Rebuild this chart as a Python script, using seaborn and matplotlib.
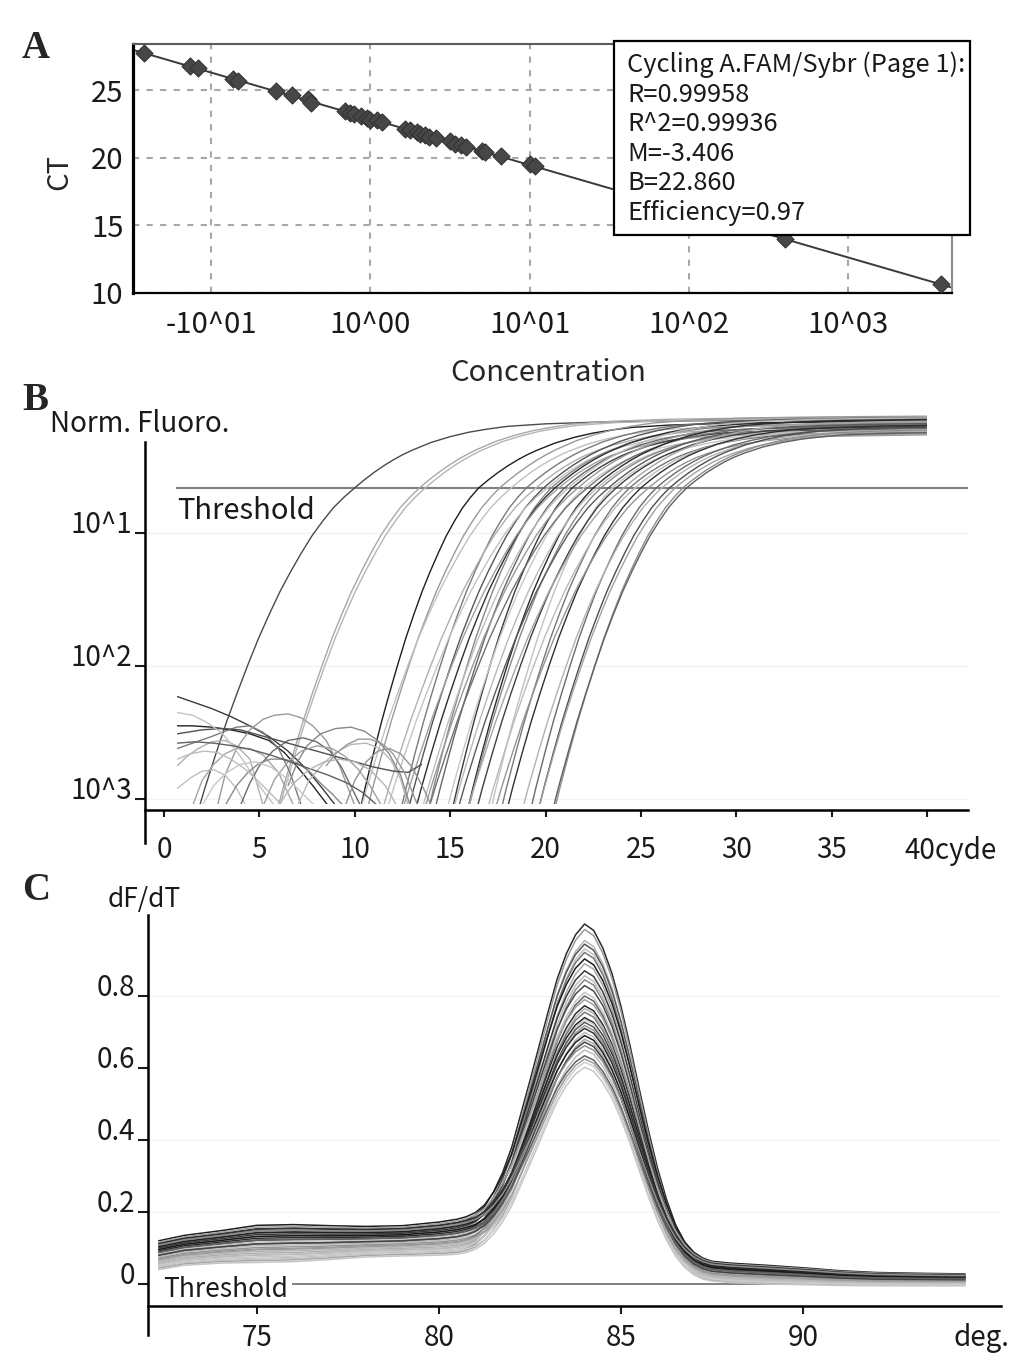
import numpy as np
import pandas as pd
import seaborn as sns
import matplotlib
matplotlib.use("Agg")
import matplotlib.pyplot as plt
from matplotlib.patches import Rectangle

W, H = 1033, 1364

# ---- panel A: standard curve ----
conc_log = [-1.42, -1.13, -1.08, -0.86, -0.83, -0.59, -0.49, -0.39, -0.37,
            -0.16, -0.13, -0.10, -0.06, -0.02, 0.00, 0.04, 0.07, 0.22, 0.25,
            0.29, 0.31, 0.34, 0.37, 0.41, 0.50, 0.53, 0.57, 0.60, 0.70, 0.72,
            0.82, 1.00, 1.03, 2.60, 3.58]
ct_values = [27.70, 26.75, 26.60, 25.85, 25.70, 24.90, 24.60, 24.30, 24.05,
             23.45, 23.30, 23.20, 23.10, 22.95, 22.80, 22.75, 22.60, 22.10,
             22.05, 21.90, 21.75, 21.70, 21.55, 21.45, 21.20, 21.00, 20.95,
             20.80, 20.50, 20.40, 20.10, 19.50, 19.35, 14.00, 10.65]
conc_ticks = [-1, 0, 1, 2, 3]
conc_labels = ["-10^01", "10^00", "10^01", "10^02", "10^03"]
ct_ticks = [10, 15, 20, 25]
fit_lines = ["Cycling A.FAM/Sybr (Page 1):", "R=0.99958", "R^2=0.99936",
             "M=-3.406", "B=22.860", "Efficiency=0.97"]

# ---- panel B: amplification (log10 of normalised fluorescence) ----
# shared curve shape, read relative to the threshold crossing cycle
amp_dc = [-8.0, -7.5, -7.0, -6.5, -6.0, -5.5, -5.0, -4.5, -4.0, -3.5, -3.0,
          -2.5, -2.0, -1.5, -1.0, -0.5, 0.0, 0.5, 1.0, 1.5, 2.0, 2.5, 3.0,
          4.0, 5.0, 6.0, 7.0, 8.0, 10.0, 13.0, 17.0, 22.0, 31.0]
amp_log = [-3.46, -3.18, -2.91, -2.66, -2.42, -2.20, -1.99, -1.79, -1.61,
           -1.44, -1.29, -1.15, -1.02, -0.91, -0.81, -0.73, -0.66, -0.60,
           -0.545, -0.495, -0.45, -0.41, -0.375, -0.315, -0.27, -0.235,
           -0.21, -0.19, -0.17, -0.155, -0.147, -0.142, -0.14]
amp_share = [0, 0, 0, 0, 0, 0, 0, 0, 0, 0, 0, 0, 0, 0, 0, 0, 0, 0.02, 0.05,
             0.1, 0.15, 0.21, 0.28, 0.42, 0.55, 0.66, 0.75, 0.82, 0.92, 1.0,
             1.0, 1.0, 1.0]
amp_ct = [10.0, 13.4, 13.7, 16.5, 17.6, 18.2, 19.0, 19.5, 19.9, 20.1, 20.3,
          20.5, 20.7, 21.0, 21.2, 21.4, 21.7, 22.0, 22.2, 22.5, 22.7, 22.9,
          23.3, 23.5, 23.7, 24.1, 24.4, 24.7, 25.0, 25.4, 25.8, 26.1, 26.5,
          26.8, 27.2, 27.4]
# how drawn-out the rise is below the threshold, per curve
amp_stretch = [1.12, 1.02, 1.05, 0.85, 0.95, 1.08, 0.9, 1.1, 0.97, 1.15,
               0.88, 1.0, 1.12, 0.93, 1.05, 0.86, 1.1, 0.98, 1.14, 0.9,
               1.03, 0.95, 1.08, 0.87, 1.0, 1.12, 0.92, 1.06, 0.96, 1.1,
               0.9, 1.0, 0.94, 0.98, 0.92, 0.96]
amp_plateau = [-0.15, -0.13, -0.14, -0.16, -0.12, -0.18, -0.14, -0.2, -0.13,
               -0.22, -0.17, -0.15, -0.24, -0.19, -0.13, -0.21, -0.16, -0.25,
               -0.18, -0.14, -0.22, -0.2, -0.17, -0.24, -0.19, -0.15, -0.23,
               -0.21, -0.18, -0.25, -0.2, -0.22, -0.19, -0.24, -0.21, -0.23]
amp_gray = ["#4a4a4a", "#a8a8a8", "#b5b5b5", "#1e1e1e", "#9a9a9a", "#c0c0c0",
            "#7a7a7a", "#b0b0b0", "#555555", "#c4c4c4", "#888888", "#2e2e2e",
            "#a0a0a0", "#666666", "#bdbdbd", "#3a3a3a", "#999999", "#c8c8c8",
            "#707070", "#2a2a2a", "#b8b8b8", "#8a8a8a", "#5a5a5a", "#c2c2c2",
            "#404040", "#a5a5a5", "#787878", "#bbbbbb", "#303030", "#959595",
            "#6a6a6a", "#b2b2b2", "#4e4e4e", "#a2a2a2", "#8e8e8e", "#606060"]
noise_cyc = [
    [0.7, 1.5, 2.5, 3.5, 4.5, 5.5, 6.5, 7.5, 8.3, 9.0],
    [0.7, 1.5, 2.5, 3.5, 4.5, 5.5, 6.3, 7.0, 7.8, 8.6],
    [0.7, 1.5, 2.5, 3.2, 3.8, 4.5, 5.2, 6.0, 6.6, 7.2],
    [2.8, 3.2, 3.8, 4.5, 5.2, 5.8, 6.5, 7.2, 7.8, 8.5, 9.2, 10.0],
    [6.5, 7.0, 7.5, 8.2, 9.0, 9.8, 10.5, 11.2, 11.8, 12.4, 12.9],
    [0.7, 1.2, 1.8, 2.5, 3.2, 3.8, 4.5, 5.2],
    [0.7, 1.4, 2.0, 2.6, 3.2, 3.8, 4.3],
    [1.5, 2.0, 2.6, 3.2, 3.8, 4.5, 5.2, 6.0, 6.8],
    [4.0, 4.5, 5.0, 5.7, 6.5, 7.3, 8.0, 8.7, 9.3, 10.3],
    [7.0, 7.6, 8.3, 9.0, 9.8, 10.6, 11.3, 11.9, 12.4, 12.8],
    [0.7, 2.0, 3.0, 4.0, 5.0, 6.0, 7.0, 8.0, 9.0, 10.0, 11.0, 12.0, 12.8,
     13.5],
    [8.5, 9.0, 9.6, 10.2, 10.8, 11.5, 12.0, 12.6, 13.3],
    [0.7, 1.5, 2.2, 3.0, 3.6, 4.2, 4.8, 5.3, 5.8],
    [3.2, 3.8, 4.4, 5.0, 5.6, 6.3, 7.0, 7.6, 8.2, 8.8, 9.4],
    [5.2, 5.8, 6.5, 7.2, 8.0, 8.8, 9.5, 10.2, 10.8, 11.4],
    [0.7, 1.4, 2.1, 2.8, 3.5, 4.2, 4.9, 5.6, 6.2],
    [9.5, 10.0, 10.6, 11.2, 11.8, 12.4, 13.0, 13.6, 14.0],
    [2.0, 2.6, 3.3, 4.0, 4.8, 5.6, 6.4, 7.2, 7.9],
    [0.7, 1.6, 2.6, 3.6, 4.6, 5.6, 6.6, 7.6, 8.6, 9.6, 10.4, 11.2],
    [6.0, 6.8, 7.6, 8.4, 9.2, 10.0, 10.8, 11.6, 12.2],
]
noise_log = [
    [-2.23, -2.27, -2.32, -2.38, -2.45, -2.53, -2.64, -2.78, -2.92, -3.05],
    [-2.45, -2.45, -2.46, -2.48, -2.51, -2.56, -2.65, -2.76, -2.90, -3.05],
    [-2.62, -2.58, -2.53, -2.49, -2.46, -2.45, -2.50, -2.62, -2.80, -3.05],
    [-3.05, -2.82, -2.62, -2.48, -2.40, -2.37, -2.36, -2.39, -2.45, -2.56,
     -2.75, -3.05],
    [-2.90, -2.72, -2.60, -2.51, -2.47, -2.46, -2.49, -2.56, -2.66, -2.82,
     -3.05],
    [-2.75, -2.68, -2.62, -2.57, -2.56, -2.60, -2.70, -3.05],
    [-2.92, -2.84, -2.79, -2.78, -2.82, -2.92, -3.05],
    [-3.05, -2.86, -2.74, -2.66, -2.62, -2.62, -2.67, -2.80, -3.05],
    [-3.05, -2.88, -2.75, -2.64, -2.56, -2.54, -2.57, -2.64, -2.76, -3.05],
    [-3.05, -2.86, -2.74, -2.65, -2.59, -2.58, -2.62, -2.71, -2.85, -3.05],
    [-2.51, -2.48, -2.47, -2.48, -2.52, -2.56, -2.60, -2.64, -2.68, -2.72,
     -2.76, -2.79, -2.80, -2.74],
    [-2.75, -2.66, -2.59, -2.55, -2.55, -2.59, -2.66, -2.80, -3.05],
    [-2.35, -2.37, -2.42, -2.50, -2.60, -2.72, -2.86, -2.96, -3.05],
    [-3.05, -2.90, -2.80, -2.73, -2.70, -2.70, -2.73, -2.79, -2.88, -2.96,
     -3.05],
    [-3.05, -2.85, -2.72, -2.64, -2.60, -2.62, -2.68, -2.78, -2.90, -3.05],
    [-2.70, -2.66, -2.64, -2.65, -2.70, -2.77, -2.86, -2.96, -3.05],
    [-3.05, -2.86, -2.72, -2.64, -2.62, -2.66, -2.76, -2.92, -3.05],
    [-3.05, -2.90, -2.80, -2.74, -2.72, -2.76, -2.84, -2.95, -3.05],
    [-2.58, -2.57, -2.58, -2.60, -2.63, -2.67, -2.72, -2.77, -2.82, -2.88,
     -2.95, -3.05],
    [-3.05, -2.88, -2.78, -2.72, -2.70, -2.72, -2.78, -2.90, -3.05],
]
noise_gray = ["#3a3a3a", "#222222", "#7a7a7a", "#9a9a9a", "#888888",
              "#b0b0b0", "#c0c0c0", "#a5a5a5", "#6a6a6a", "#b8b8b8",
              "#505050", "#999999", "#c4c4c4", "#8a8a8a", "#a0a0a0",
              "#bcbcbc", "#959595", "#c8c8c8", "#606060", "#b4b4b4"]
cycle_ticks = [0, 5, 10, 15, 20, 25, 30, 35, 40]
fluoro_ticks = [-1, -2, -3]
fluoro_labels = ["10^1", "10^2", "10^3"]
threshold_b = -0.66

# ---- panel C: melt curves ----
melt_temp = [72.3, 73.0, 74.0, 75.0, 76.0, 77.0, 78.0, 79.0, 80.0, 80.5,
             80.75, 81.0, 81.25, 81.5, 81.75, 82.0, 82.25, 82.5, 82.75, 83.0,
             83.25, 83.5, 83.75, 84.0, 84.25, 84.5, 84.75, 85.0, 85.25, 85.5,
             85.75, 86.0, 86.25, 86.5, 86.75, 87.0, 87.25, 87.5, 88.0, 89.0,
             90.0, 91.0, 92.0, 93.0, 94.45]
melt_shape = [0, 0, 0, 0, 0, 0, 0, 0, 0, 0, 0.005, 0.02, 0.05, 0.10, 0.165,
              0.25, 0.36, 0.47, 0.585, 0.70, 0.81, 0.895, 0.96, 1.0, 0.985,
              0.935, 0.86, 0.76, 0.64, 0.51, 0.385, 0.27, 0.175, 0.10, 0.05,
              0.02, 0.005, 0, 0, 0, 0, 0, 0, 0, 0]
melt_base_low = [0.04, 0.052, 0.058, 0.06, 0.062, 0.068, 0.075, 0.078, 0.08,
                 0.083, 0.085, 0.086, 0.086, 0.085, 0.084, 0.082, 0.08, 0.078,
                 0.075, 0.072, 0.069, 0.066, 0.063, 0.06, 0.057, 0.053, 0.05,
                 0.046, 0.043, 0.039, 0.035, 0.031, 0.027, 0.023, 0.019,
                 0.015, 0.011, 0.008, 0.004, 0.0, -0.002, -0.004, -0.005,
                 -0.005, -0.005]
melt_base_high = [0.12, 0.135, 0.148, 0.163, 0.165, 0.162, 0.16, 0.162, 0.172,
                  0.18, 0.183, 0.183, 0.181, 0.178, 0.175, 0.171, 0.167,
                  0.163, 0.158, 0.153, 0.148, 0.143, 0.138, 0.133, 0.128,
                  0.123, 0.118, 0.113, 0.108, 0.103, 0.098, 0.093, 0.088,
                  0.083, 0.078, 0.073, 0.068, 0.063, 0.058, 0.052, 0.045,
                  0.037, 0.032, 0.03, 0.028]
melt_peak = [1.0, 0.985, 0.954, 0.944, 0.931, 0.921, 0.903, 0.89, 0.87, 0.856,
             0.845, 0.829, 0.81, 0.80, 0.79, 0.773, 0.765, 0.755, 0.74, 0.735,
             0.727, 0.718, 0.71, 0.699, 0.69, 0.68, 0.672, 0.662, 0.65, 0.634,
             0.625, 0.616, 0.602]
melt_mix = [0.9, 0.7, 0.5, 0.8, 0.3, 0.6, 1.0, 0.2, 0.75, 0.45, 0.1, 0.85,
            0.55, 0.35, 0.95, 0.65, 0.25, 0.5, 0.8, 0.15, 0.6, 0.4, 0.9,
            0.3, 0.7, 0.05, 0.5, 0.85, 0.2, 0.6, 0.35, 0.1, 0.0]
melt_gray = ["#2a2a2a", "#9a9a9a", "#b5b5b5", "#555555", "#c0c0c0", "#777777",
             "#1e1e1e", "#a8a8a8", "#3a3a3a", "#bbbbbb", "#888888", "#4a4a4a",
             "#c4c4c4", "#666666", "#a0a0a0", "#2e2e2e", "#b0b0b0", "#7a7a7a",
             "#222222", "#c8c8c8", "#5a5a5a", "#959595", "#333333", "#b8b8b8",
             "#1a1a1a", "#a5a5a5", "#444444", "#8e8e8e", "#bdbdbd", "#606060",
             "#9e9e9e", "#cccccc", "#c6c6c6"]
deg_ticks = [75, 80, 85, 90]
dfdt_ticks = [0, 0.2, 0.4, 0.6, 0.8]
dfdt_labels = ["0", "0.2", "0.4", "0.6", "0.8"]

sns.set_theme(style="white")
plt.rcParams['font.family'] = ['Noto Sans CJK KR', 'DejaVu Sans']
plt.rcParams['axes.unicode_minus'] = False

fig = plt.figure(figsize=(W / 100, H / 100), dpi=100)
fig.patch.set_facecolor("white")


def px_axes(left, top, right, bottom):
    return fig.add_axes([left / W, 1 - bottom / H, (right - left) / W,
                         (bottom - top) / H])


def fig_text(x, y, s, **kw):
    return fig.text(x / W, 1 - y / H, s, **kw)


def panel_label(x, y, s):
    fig_text(x, y, s, fontsize=28, fontweight="bold",
             family=["Liberation Serif", "DejaVu Serif"], va="baseline")


# ---------------- A ----------------
axA = px_axes(133, 44, 952, 293)
axA.set_facecolor("white")
std_df = pd.DataFrame({"conc": conc_log, "ct": ct_values})
axA.set_xlim(-1.49, 3.65)
axA.set_ylim(10, 28.4)
sns.regplot(data=std_df, x="conc", y="ct", ax=axA, scatter=False, ci=None,
            truncate=False, color="#3a3a3a", line_kws={"lw": 1.4})
sns.scatterplot(data=std_df, x="conc", y="ct", ax=axA, marker="D", s=75,
                color="#474747", edgecolor="#333333", linewidth=0.8,
                zorder=4)
axA.set_xlim(-1.49, 3.65)
axA.set_ylim(10, 28.4)
axA.set_xticks(conc_ticks)
axA.set_xticklabels(conc_labels)
axA.set_yticks(ct_ticks)
axA.grid(True, ls=(0, (3, 3.5)), color="#a8a8a8", lw=1.5)
axA.tick_params(axis="both", length=0, labelsize=21, colors="#1a1a1a")
axA.tick_params(axis="x", pad=12)
axA.tick_params(axis="y", pad=7)
axA.set_xlabel("")
axA.set_ylabel("")
axA.spines["left"].set(color="black", lw=2.3)
axA.spines["bottom"].set(color="black", lw=1.6)
axA.spines["top"].set(color="#5a5a5a", lw=1.5)
axA.spines["right"].set(color="#8a8a8a", lw=1.5)
for s in axA.spines.values():
    s.set_visible(True)

fig_text(59, 172, "CT", fontsize=21, rotation=90, ha="center", va="center")
fig_text(548, 373, "Concentration", fontsize=21, ha="center", va="center")

fig.patches.append(Rectangle((614 / W, 1 - 235 / H), 356 / W, 194 / H,
                             transform=fig.transFigure, fc="white",
                             ec="black", lw=1.6, zorder=5))
for i, line in enumerate(fit_lines):
    fig_text(627, 65 + 29.6 * i, line, fontsize=18.3, ha="left",
             va="center", zorder=6, color="#1a1a1a")

# ---------------- B ----------------
axB = px_axes(145, 412, 968, 843)
axB.set_facecolor("white")
dc = np.array(amp_dc)
amp_rows = []
for i, (ct, st, plat) in enumerate(zip(amp_ct, amp_stretch, amp_plateau)):
    cyc = ct + dc * np.where(dc < 0, st, 1.0)
    val = np.array(amp_log) + (plat - amp_log[-1]) * np.array(amp_share)
    for c, v in zip(cyc, val):
        amp_rows.append((f"a{i:02d}", c, v))
for i, (cs, vs) in enumerate(zip(noise_cyc, noise_log)):
    for c, v in zip(cs, vs):
        amp_rows.append((f"n{i:02d}", c, v))
amp_df = pd.DataFrame(amp_rows, columns=["curve", "cycle", "value"])
amp_pal = {f"a{i:02d}": g for i, g in enumerate(amp_gray)}
amp_pal.update({f"n{i:02d}": g for i, g in enumerate(noise_gray)})
sns.lineplot(data=amp_df, x="cycle", y="value", hue="curve", palette=amp_pal,
             estimator=None, sort=False, legend=False, lw=1.0, ax=axB)
clip_b = Rectangle((0.7, -3.04), 39.3, 3.2, transform=axB.transData)
for ln in axB.lines:
    ln.set_clip_path(clip_b)

xl_b = ((145 - 164) / 19.08, (968 - 164) / 19.08)
axB.set_xlim(*xl_b)
axB.set_ylim(-1 - (843 - 533) / 133, -1 - (412 - 533) / 133)
axB.hlines(threshold_b, 0.63, xl_b[1], color="#808080", lw=1.5, zorder=1)
axB.text(0.7, -0.835, "Threshold", fontsize=21, ha="left", va="center",
         color="#1a1a1a")
for yv in fluoro_ticks:
    axB.axhline(yv, color="#f2f2f2", lw=1.0, zorder=0)

for s in ["top", "right"]:
    axB.spines[s].set_visible(False)
axB.spines["left"].set(color="black", lw=1.8)
axB.spines["left"].set_bounds(-1 - (843 - 533) / 133, -1 - (442 - 533) / 133)
axB.spines["bottom"].set(color="black", lw=1.8)
axB.spines["bottom"].set_position(("data", -1 - (810 - 533) / 133))
axB.set_xticks(cycle_ticks)
axB.set_xticklabels([str(t) for t in cycle_ticks[:-1]] + [""])
axB.set_yticks(fluoro_ticks)
axB.set_yticklabels(fluoro_labels)
axB.tick_params(axis="x", direction="out", length=5, width=1.5, pad=13,
                labelsize=20, bottom=True, colors="#1a1a1a")
axB.tick_params(axis="y", direction="out", length=7, width=1.5, pad=2,
                labelsize=20, left=True, colors="#1a1a1a")
for lbl in axB.get_yticklabels():
    lbl.set_verticalalignment("baseline")
axB.set_xlabel("")
axB.set_ylabel("")
axB.annotate("40cyde", xy=(40, -1 - (810 - 533) / 133), xycoords="data",
             xytext=(-16, -18.5), textcoords="offset points", ha="left",
             va="top", fontsize=20, color="#1a1a1a")
fig_text(50, 424, "Norm. Fluoro.", fontsize=20, ha="left", va="center",
         color="#1a1a1a")

# ---------------- C ----------------
axC = px_axes(148, 915, 1001, 1335)
axC.set_facecolor("white")
low = np.array(melt_base_low)
high = np.array(melt_base_high)
shape = np.array(melt_shape)
i84 = melt_temp.index(84.0)
melt_rows = []
for i, (pk, m) in enumerate(zip(melt_peak, melt_mix)):
    base = low + m * (high - low)
    val = base + (pk - base[i84]) * shape
    for t, v in zip(melt_temp, val):
        melt_rows.append((f"m{i:02d}", t, v))
melt_df = pd.DataFrame(melt_rows, columns=["curve", "temp", "value"])
melt_pal = {f"m{i:02d}": g for i, g in enumerate(melt_gray)}
sns.lineplot(data=melt_df, x="temp", y="value", hue="curve",
             palette=melt_pal, estimator=None, sort=False, legend=False,
             lw=1.1, ax=axC)

xl_c = (75 + (148 - 257) / 36.4, 75 + (1001 - 257) / 36.4)
axC.set_xlim(*xl_c)
axC.set_ylim((1284 - 1335) / 360, (1284 - 915) / 360)
axC.hlines(0, 75.96, 94.45, color="#808080", lw=1.4, zorder=1)
axC.text(72.42, -0.014, "Threshold", fontsize=19, ha="left", va="center",
         color="#1a1a1a")
for yv in [0.2, 0.4, 0.8]:
    axC.axhline(yv, color="#f4f4f4", lw=1.0, zorder=0)

for s in ["top", "right"]:
    axC.spines[s].set_visible(False)
axC.spines["left"].set(color="black", lw=1.8)
axC.spines["bottom"].set(color="black", lw=1.8)
axC.spines["bottom"].set_position(("data", (1284 - 1306) / 360))
axC.set_xticks(deg_ticks)
axC.set_yticks(dfdt_ticks)
axC.set_yticklabels(dfdt_labels)
axC.tick_params(axis="x", direction="out", length=6, width=1.5, pad=6,
                labelsize=20, bottom=True, colors="#1a1a1a")
axC.tick_params(axis="y", direction="out", length=7, width=1.5, pad=2,
                labelsize=20, left=True, colors="#1a1a1a")
for lbl in axC.get_yticklabels():
    lbl.set_verticalalignment("baseline")
axC.set_xlabel("")
axC.set_ylabel("")
axC.annotate("deg.", xy=(94.9, (1284 - 1306) / 360), xycoords="data",
             xytext=(0, -12), textcoords="offset points", ha="center",
             va="top", fontsize=20, color="#1a1a1a")
fig_text(144, 900, "dF/dT", fontsize=19, ha="center", va="center",
         color="#1a1a1a")

panel_label(22, 58, "A")
panel_label(22, 410, "B")
panel_label(22, 900, "C")

fig.savefig("out.png", dpi=100, facecolor="white")
